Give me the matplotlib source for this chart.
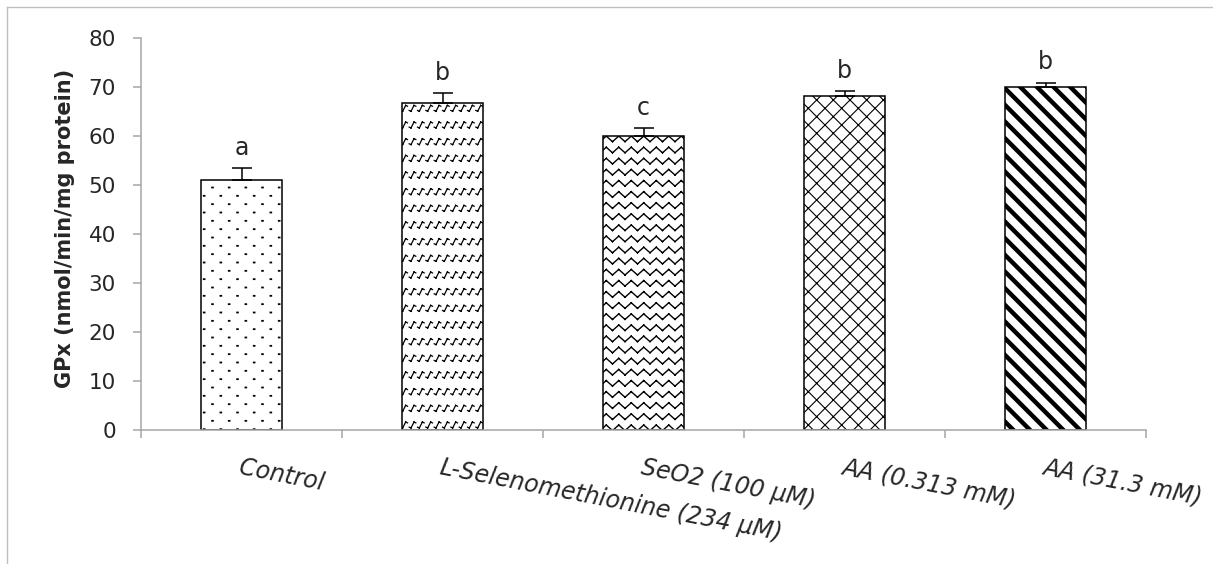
import warnings
import numpy as np
import matplotlib
matplotlib.use('Agg')
import matplotlib.pyplot as plt
import matplotlib.hatch as mhatch
import matplotlib.transforms as mtransforms
from matplotlib.path import Path
from matplotlib.lines import Line2D

warnings.filterwarnings('ignore')

# data
groups = ['Control', 'L-Selenomethionine (234 µM)', 'SeO2 (100 µM)',
          'AA (0.313 mM)', 'AA (31.3 mM)']
gpx = [51.0, 66.8, 59.9, 68.2, 70.1]
gpx_err = [2.5, 1.9, 1.7, 1.0, 0.8]
letters = ['a', 'b', 'c', 'b', 'b']
hatches = ['d', 's', 'z', 'xx', '\\\\']
hatch_lw = [1.3, 0.9, 1.0, 0.8, 3.2]


class DotHatch(mhatch.HatchPatternBase):
    # 'd' -> sparse staggered dots
    def __init__(self, hatch, density):
        n = hatch.count('d')
        self.rows = int(n * density * 2)
        self.cols = int(n * density)
        self.num_vertices = self.rows * self.cols * 2

    def set_vertices_and_codes(self, vertices, codes):
        if self.num_vertices == 0:
            return
        k = 0
        for i in range(self.rows):
            y = (i + 0.5) / self.rows
            for j in range(self.cols):
                xc = (j + 0.25 + 0.5 * (i % 2)) / self.cols
                vertices[k:k + 2] = [(xc - 0.004, y), (xc + 0.004, y)]
                codes[k:k + 2] = [Path.MOVETO, Path.LINETO]
                k += 2


class ZigZagHatch(mhatch.HatchPatternBase):
    # 'z' -> horizontal rows of zigzags
    def __init__(self, hatch, density):
        n = hatch.count('z')
        self.rows = int(n * density * 1.5)
        self.teeth = int(n * density * 1.35)
        self.num_vertices = self.rows * self.teeth * 4

    def set_vertices_and_codes(self, vertices, codes):
        if self.num_vertices == 0:
            return
        a = 0.25 / self.rows
        k = 0
        for i in range(self.rows):
            y = (i + 0.5) / self.rows
            for j in range(self.teeth):
                x0 = j / self.teeth
                x1 = (j + 0.5) / self.teeth
                x2 = (j + 1) / self.teeth
                vertices[k:k + 4] = [(x0, y - a), (x1, y + a), (x1, y + a), (x2, y - a)]
                codes[k:k + 4] = [Path.MOVETO, Path.LINETO, Path.MOVETO, Path.LINETO]
                k += 4


class SquiggleHatch(mhatch.HatchPatternBase):
    # 's' -> rows of small slanted squiggles
    def __init__(self, hatch, density):
        n = hatch.count('s')
        self.rows = int(n * density)
        self.cols = int(n * density * 2)
        self.num_vertices = self.rows * self.cols * 6

    def set_vertices_and_codes(self, vertices, codes):
        if self.num_vertices == 0:
            return
        d = 1.0 / self.cols
        h = 0.03
        k = 0
        for i in range(self.rows):
            y = (i + 0.5) / self.rows
            for j in range(self.cols):
                xc = (j + 0.5) * d
                p0 = (xc - 0.4 * d, y - 0.7 * h)
                p1 = (xc - 0.18 * d, y - h)
                p2 = (xc + 0.18 * d, y + h)
                p3 = (xc + 0.4 * d, y + 0.7 * h)
                vertices[k:k + 6] = [p0, p1, p1, p2, p2, p3]
                codes[k:k + 6] = [Path.MOVETO, Path.LINETO] * 3
                k += 6


mhatch._hatch_types.extend([DotHatch, ZigZagHatch, SquiggleHatch])

plt.rcParams['font.family'] = ['DejaVu Sans']

fig = plt.figure(figsize=(12.13, 5.64), dpi=100)
ax = fig.add_axes([141 / 1213, 134 / 564, 1005 / 1213, 392 / 564])

x = np.arange(len(groups))
for i in range(len(groups)):
    with plt.rc_context({'hatch.linewidth': hatch_lw[i]}):
        b = ax.bar(x[i], gpx[i], width=0.4, color='white', edgecolor='black',
                   linewidth=1.1, hatch=hatches[i], zorder=2)
    for p in b:
        if hasattr(p, 'set_hatch_linewidth'):
            p.set_hatch_linewidth(hatch_lw[i])

ax.errorbar(x, gpx, yerr=[np.zeros(len(gpx)), gpx_err], fmt='none',
            ecolor='black', elinewidth=1.1, capsize=7.5, capthick=1.1, zorder=3)

for i in range(len(groups)):
    ax.annotate(letters[i], (x[i], gpx[i] + gpx_err[i]), xytext=(0, 6),
                textcoords='offset points', ha='center', va='bottom',
                fontsize=17, color='#262626')

ax.set_xlim(-0.5, len(groups) - 0.5)
ax.set_ylim(0, 80)
ax.set_yticks(np.arange(0, 81, 10))
ax.set_xticks(np.arange(-0.5, len(groups), 1.0))
ax.set_xticklabels([])
ax.tick_params(axis='y', labelsize=15.5, length=6, width=1.1, color='#a6a6a6',
               labelcolor='#262626', pad=12)
ax.tick_params(axis='x', length=6, width=1.1, color='#a6a6a6')
for s in ['top', 'right']:
    ax.spines[s].set_visible(False)
for s in ['left', 'bottom']:
    ax.spines[s].set_color('#a6a6a6')
    ax.spines[s].set_linewidth(1.1)
ax.set_ylabel('GPx (nmol/min/mg protein)', fontsize=15, fontweight='bold',
              color='#262626')
ax.yaxis.set_label_coords((75 - 141) / 1005, 0.515)

shift = mtransforms.ScaledTranslation(0, -0.25, fig.dpi_scale_trans)
for i in range(len(groups)):
    ax.text(x[i], 0, groups[i], transform=ax.get_xaxis_transform() + shift,
            rotation=-11, rotation_mode='anchor', ha='left', va='top',
            fontsize=17, fontstyle='italic', color='#262626')

# outer chart frame (top and left edges visible)
fig.add_artist(Line2D([7 / 1213, 7 / 1213], [0, 1 - 7 / 564], transform=fig.transFigure,
                      color='#bfbfbf', lw=1.0))
fig.add_artist(Line2D([7 / 1213, 1], [1 - 7 / 564, 1 - 7 / 564], transform=fig.transFigure,
                      color='#bfbfbf', lw=1.0))

fig.savefig('out.png', dpi=100)
